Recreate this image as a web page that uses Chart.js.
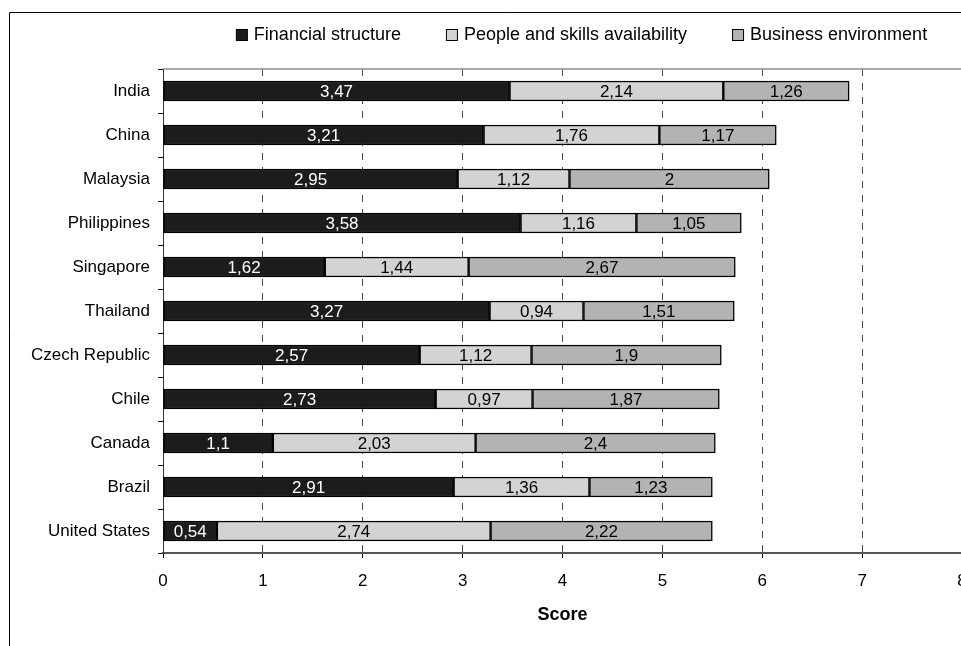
<!DOCTYPE html>
<html>
<head>
<meta charset="utf-8">
<title>Location scores</title>
<script src="https://cdn.jsdelivr.net/npm/chart.js@4/dist/chart.umd.min.js"></script>
<style>
  html, body { margin: 0; padding: 0; background: #fff; overflow: hidden; }
  #wrap { position: relative; width: 1000px; height: 646px; }
  canvas { display: block; }
</style>
</head>
<body>
<div id="wrap"><canvas id="chart" width="1000" height="646"></canvas></div>
<script>
// Countries, top to bottom
const countries = ['India', 'China', 'Malaysia', 'Philippines', 'Singapore', 'Thailand',
  'Czech Republic', 'Chile', 'Canada', 'Brazil', 'United States'];

// Score components per country
const financialStructure = [3.47, 3.21, 2.95, 3.58, 1.62, 3.27, 2.57, 2.73, 1.1, 2.91, 0.54];
const peopleSkills       = [2.14, 1.76, 1.12, 1.16, 1.44, 0.94, 1.12, 0.97, 2.03, 1.36, 2.74];
const businessEnv        = [1.26, 1.17, 2, 1.05, 2.67, 1.51, 1.9, 1.87, 2.4, 1.23, 2.22];

const seriesNames = ['Financial structure', 'People and skills availability', 'Business environment'];
const xTicks = [0, 1, 2, 3, 4, 5, 6, 7, 8];
const axisTitle = 'Score';

const FONT = "'Liberation Sans', Arial, sans-serif";

const fmt = v => String(v).replace('.', ',');

// Outer frame and plot-area top edge
const framePlugin = {
  id: 'frame',
  beforeDraw(chart) {
    const ctx = chart.ctx;
    ctx.save();
    ctx.fillStyle = '#fff';
    ctx.fillRect(0, 0, chart.width, chart.height);
    ctx.strokeStyle = '#000';
    ctx.lineWidth = 1;
    ctx.beginPath();
    ctx.moveTo(9.5, chart.height + 5);
    ctx.lineTo(9.5, 12.5);
    ctx.lineTo(chart.width + 5, 12.5);
    ctx.stroke();
    ctx.restore();
  },
  beforeDatasetsDraw(chart) {
    const {ctx, chartArea} = chart;
    ctx.save();
    ctx.strokeStyle = '#8c8c8c';
    ctx.lineWidth = 1.5;
    ctx.beginPath();
    ctx.moveTo(chartArea.left, chartArea.top);
    ctx.lineTo(chart.width + 5, chartArea.top);
    ctx.stroke();
    ctx.restore();
  }
};

// Legend row across the top
const legendRow = {
  id: 'legendRow',
  afterDraw(chart) {
    const ctx = chart.ctx;
    const ds = chart.data.datasets;
    ctx.save();
    ctx.font = '18px ' + FONT;
    const box = 11, gapText = 7, gapItem = 45;
    const widths = ds.map(d => ctx.measureText(d.label).width);
    const total = widths.reduce((a, w) => a + box + gapText + w, 0) + gapItem * (ds.length - 1);
    let x = 581.5 - total / 2;
    const baseline = 40;
    ds.forEach((d, i) => {
      ctx.fillStyle = d.backgroundColor;
      ctx.fillRect(x + 0.5, baseline - 10.5, box, box);
      ctx.strokeStyle = '#000';
      ctx.lineWidth = 1;
      ctx.strokeRect(x + 0.5, baseline - 10.5, box, box);
      ctx.fillStyle = '#000';
      ctx.textAlign = 'left';
      ctx.textBaseline = 'alphabetic';
      ctx.fillText(d.label, x + box + gapText, baseline);
      x += box + gapText + widths[i] + gapItem;
    });
    ctx.restore();
  }
};

// Value labels centred in every segment
const valueLabels = {
  id: 'valueLabels',
  afterDatasetsDraw(chart) {
    const ctx = chart.ctx;
    ctx.save();
    ctx.font = '17px ' + FONT;
    ctx.textAlign = 'center';
    ctx.textBaseline = 'middle';
    chart.data.datasets.forEach((d, di) => {
      const meta = chart.getDatasetMeta(di);
      meta.data.forEach((el, i) => {
        const v = d.data[i];
        ctx.fillStyle = di === 0 ? '#fff' : '#000';
        ctx.fillText(fmt(v), (el.x + el.base) / 2, el.y + 1);
      });
    });
    ctx.restore();
  }
};

const colors = ['#1c1c1c', '#d3d3d3', '#b3b3b3'];
const seriesData = [financialStructure, peopleSkills, businessEnv];

new Chart(document.getElementById('chart'), {
  type: 'bar',
  data: {
    labels: countries,
    datasets: seriesData.map((data, i) => ({
      label: seriesNames[i],
      data,
      backgroundColor: colors[i],
      borderColor: '#000',
      borderWidth: 1.5,
      borderSkipped: false,
      barThickness: 20
    }))
  },
  options: {
    indexAxis: 'y',
    responsive: false,
    animation: false,
    devicePixelRatio: 1,
    layout: { padding: { top: 69, right: 38, left: 0, bottom: 0 } },
    plugins: {
      legend: { display: false },
      tooltip: { enabled: false }
    },
    scales: {
      x: {
        stacked: true,
        min: 0,
        max: 8,
        afterBuildTicks(scale) { scale.ticks = xTicks.map(v => ({ value: v })); },
        afterFit(scale) { scale.height = 93; },
        ticks: {
          font: { family: FONT, size: 17 },
          color: '#000',
          padding: 13,
          callback: v => String(v)
        },
        grid: {
          color: ctx => (ctx.tick && (ctx.tick.value === 0 || ctx.tick.value === 8)) ? 'rgba(0,0,0,0)' : '#4a4a4a',
          lineWidth: 1,
          borderDash: [7, 7],
          drawTicks: true,
          tickLength: 5,
          tickColor: '#000',
          tickWidth: 1,
          tickBorderDash: []
        },
        border: { display: true, color: '#555', width: 2, dash: [7, 7] },
        title: {
          display: true,
          text: axisTitle,
          font: { family: FONT, size: 18, weight: 'bold' },
          color: '#000',
          padding: { top: 0, bottom: 20 }
        }
      },
      y: {
        stacked: true,
        afterFit(scale) { scale.width = 163; },
        ticks: {
          font: { family: FONT, size: 17 },
          color: '#000',
          padding: 8
        },
        grid: {
          offset: true,
          drawOnChartArea: false,
          drawTicks: true,
          tickLength: 5,
          tickColor: '#000',
          color: '#000'
        },
        border: { display: true, color: '#333', width: 1 }
      }
    }
  },
  plugins: [framePlugin, legendRow, valueLabels]
});
</script>
</body>
</html>
